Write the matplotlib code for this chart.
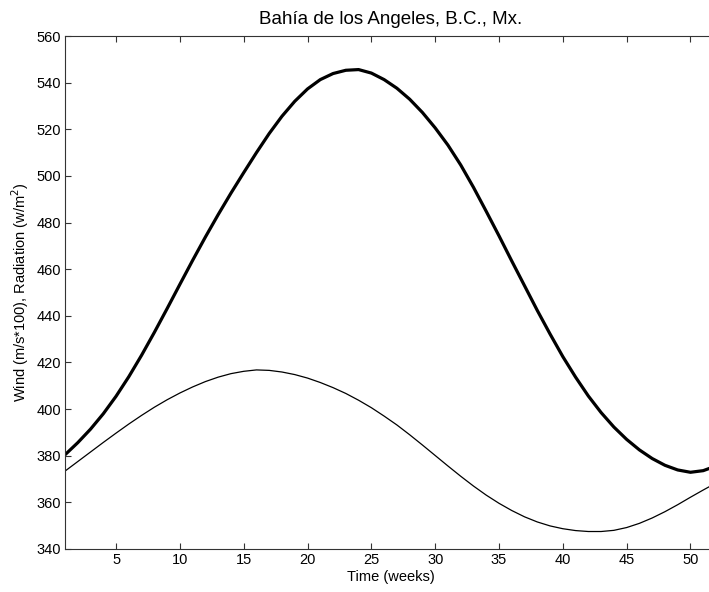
import matplotlib
matplotlib.use("Agg")
import matplotlib.pyplot as plt

weeks = list(range(1, 53))

radiation = [380.4, 385.6, 391.4, 398.0, 405.5, 413.9, 423.1, 432.9, 443.1, 453.5,
             463.8, 473.8, 483.4, 492.6, 501.4, 510.0, 518.2, 525.6, 532.0, 537.3,
             541.3, 543.9, 545.3, 545.6, 544.1, 541.3, 537.6, 532.9, 527.2, 520.6,
             513.2, 504.7, 495.1, 484.8, 474.3, 463.5, 452.9, 442.3, 432.2, 422.5,
             413.7, 405.6, 398.5, 392.3, 387.0, 382.5, 378.8, 375.9, 373.9, 372.9,
             373.6, 375.6]

wind = [373.4, 377.5, 381.6, 385.7, 389.7, 393.6, 397.3, 400.8, 404.0, 406.9,
        409.5, 411.8, 413.7, 415.2, 416.2, 416.8, 416.6, 415.9, 414.8, 413.3,
        411.4, 409.2, 406.7, 403.8, 400.6, 397.0, 393.2, 389.0, 384.6, 380.1,
        375.6, 371.2, 367.0, 363.1, 359.6, 356.5, 353.8, 351.6, 349.9, 348.7,
        347.9, 347.5, 347.5, 348.0, 349.2, 351.0, 353.3, 356.0, 359.0, 362.2,
        365.3, 368.3]

xticks = [5, 10, 15, 20, 25, 30, 35, 40, 45, 50]
yticks = list(range(340, 561, 20))

plt.rcParams['font.family'] = ['Liberation Sans', 'DejaVu Sans']

fig = plt.figure(figsize=(7.09, 5.92), dpi=100)
W, H = 709, 592
left, right, top, bottom = 65, 716, 36, 549
ax = fig.add_axes([left / W, 1 - bottom / H, (right - left) / W, (bottom - top) / H])

ax.plot(weeks, radiation, color='black', linewidth=2.3, solid_joinstyle='round')
ax.plot(weeks, wind, color='black', linewidth=0.9, solid_joinstyle='round')

ax.set_xlim(1, 52)
ax.set_ylim(340, 560)
ax.set_xticks(xticks)
ax.set_yticks(yticks)
ax.tick_params(direction='in', length=4, width=0.8, color='#333333',
               labelsize=10.5, top=True, right=True, pad=3)
for s in ax.spines.values():
    s.set_color('#333333')
    s.set_linewidth(0.8)

ax.set_title('Bahía de los Angeles, B.C., Mx.', fontsize=13.5, pad=8.5)
ax.set_xlabel('Time (weeks)', fontsize=10.5, labelpad=2)
ax.set_ylabel('Wind (m/s*100), Radiation (w/m$^2$)', fontsize=10.5, labelpad=4)

fig.savefig('out.png', dpi=100)
